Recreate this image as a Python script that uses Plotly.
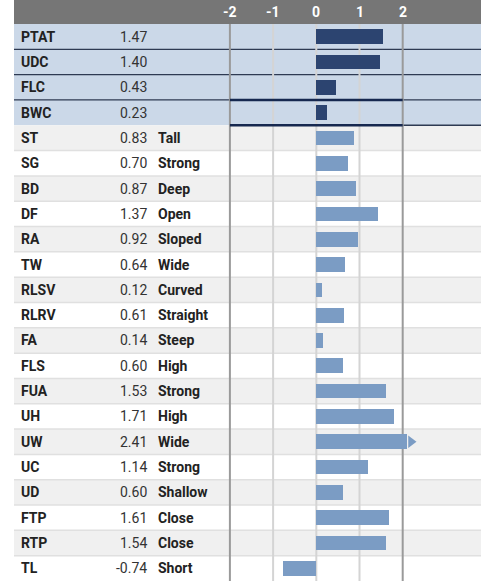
import plotly.graph_objects as go

# ---------------- data ----------------
NAMES = ["PTAT", "UDC", "FLC", "BWC", "ST", "SG", "BD", "DF", "RA", "TW", "RLSV",
         "RLRV", "FA", "FLS", "FUA", "UH", "UW", "UC", "UD", "FTP", "RTP", "TL"]
VALUES = [1.47, 1.40, 0.43, 0.23, 0.83, 0.70, 0.87, 1.37, 0.92, 0.64, 0.12,
          0.61, 0.14, 0.60, 1.53, 1.71, 2.41, 1.14, 0.60, 1.61, 1.54, -0.74]
DESCRIPTORS = ["", "", "", "", "Tall", "Strong", "Deep", "Open", "Sloped", "Wide", "Curved",
               "Straight", "Steep", "High", "Strong", "High", "Wide", "Strong", "Shallow",
               "Close", "Close", "Short"]
TICKS = [-2, -1, 0, 1, 2]
N_SUMMARY = 4          # first rows are summary (composite) traits
CLIP = 2.0             # bars longer than this are cut and get an arrow

# ---------------- layout constants ----------------
W, H = 481, 581
ZERO_PX = 316.3
BAR_UNIT_PX, GRID_UNIT_PX = 45.3, 43.2   # bar scale vs. grid/tick scale
HEADER_PX = 24
LEFT_PX = 14
N = len(NAMES)
ROW_PX = (H - HEADER_PX) / N
X_RANGE = [-ZERO_PX / BAR_UNIT_PX, (W - ZERO_PX) / BAR_UNIT_PX]
X2_RANGE = [-ZERO_PX / GRID_UNIT_PX, (W - ZERO_PX) / GRID_UNIT_PX]
Y_RANGE = [N - 0.5, -0.5 - HEADER_PX / ROW_PX]
LEFT = LEFT_PX / W

FONT = "Roboto, Arial, sans-serif"
BLUE_BG = "#cbd8e8"
GRAY_BG = "#f0f0f0"
DARK_BAR = "#2c4470"
LIGHT_BAR = "#7b9cc4"

fig = go.Figure()

bar_x = [min(v, CLIP) for v in VALUES]
colors = [DARK_BAR if i < N_SUMMARY else LIGHT_BAR for i in range(N)]
fig.add_trace(go.Bar(
    x=bar_x, y=NAMES, orientation="h", width=0.58,
    marker=dict(color=colors, line=dict(width=0)),
    hoverinfo="skip", showlegend=False,
))

# arrow for clipped bars
arr_y = [n for n, v in zip(NAMES, VALUES) if v > CLIP]
arr_c = [c for c, v in zip(colors, VALUES) if v > CLIP]
if arr_y:
    fig.add_trace(go.Scatter(
        x=[CLIP + 0.09] * len(arr_y), y=arr_y, mode="markers",
        marker=dict(symbol="triangle-right", size=11, color=arr_c, line=dict(width=0)),
        hoverinfo="skip", showlegend=False,
    ))

shapes = []
# header band
shapes.append(dict(type="rect", xref="paper", yref="paper", x0=LEFT, x1=1,
                   y0=1 - HEADER_PX / H, y1=1, fillcolor="#767676",
                   line=dict(width=0), layer="below"))
# row backgrounds
for i in range(N):
    if i < N_SUMMARY:
        col = BLUE_BG
    else:
        col = GRAY_BG if (i - N_SUMMARY) % 2 == 0 else "#ffffff"
    shapes.append(dict(type="rect", xref="paper", yref="y", x0=LEFT, x1=1,
                       y0=i - 0.5, y1=i + 0.5, fillcolor=col,
                       line=dict(width=0), layer="below"))
# row separators
for i in range(1, N):
    yb = i - 0.5
    if i < N_SUMMARY:
        shapes.append(dict(type="line", xref="paper", yref="y", x0=LEFT, x1=1,
                           y0=yb, y1=yb, line=dict(color="#2e3a52", width=1.3),
                           layer="below"))
    elif i == N_SUMMARY:
        shapes.append(dict(type="line", xref="x2", yref="y", x0=2, x1=X2_RANGE[1],
                           y0=yb, y1=yb, line=dict(color="#2e3a52", width=1.3),
                           layer="below"))
    else:
        shapes.append(dict(type="line", xref="paper", yref="y", x0=LEFT, x1=1,
                           y0=yb, y1=yb, line=dict(color="#e0e0e0", width=1.5),
                           layer="below"))
# vertical grid lines
for t in TICKS:
    shapes.append(dict(type="line", xref="x2", yref="y", x0=t, x1=t,
                       y0=-0.5, y1=N - 0.5,
                       line=dict(color="#9a9a9a" if abs(t) == 2 else "#d4d4d4", width=2),
                       layer="below"))
# thick navy lines framing last summary row
for yb in (N_SUMMARY - 1.5, N_SUMMARY - 0.5):
    shapes.append(dict(type="line", xref="x2", yref="y", x0=TICKS[0], x1=TICKS[-1],
                       y0=yb, y1=yb, line=dict(color="#16284f", width=2.5),
                       layer="below"))

annotations = []
for t in TICKS:
    annotations.append(dict(x=t, y=1 - (HEADER_PX / 2) / H, xref="x2", yref="paper",
                            text=str(t), showarrow=False, xanchor="center", yanchor="middle",
                            font=dict(family=FONT, size=14, color="white", weight="bold")))
for n, v, d in zip(NAMES, VALUES, DESCRIPTORS):
    annotations.append(dict(x=19 / W, y=n, xref="paper", yref="y", text=n,
                            showarrow=False, xanchor="left", yanchor="middle",
                            font=dict(family=FONT, size=14, color="#222222", weight="bold")))
    annotations.append(dict(x=148.5 / W, y=n, xref="paper", yref="y", text=f"{v:.2f}",
                            showarrow=False, xanchor="right", yanchor="middle",
                            font=dict(family=FONT, size=14, color="#333333")))
    if d:
        annotations.append(dict(x=156 / W, y=n, xref="paper", yref="y", text=d,
                                showarrow=False, xanchor="left", yanchor="middle",
                                font=dict(family=FONT, size=14, color="#222222", weight="bold")))

fig.update_layout(
    width=W, height=H,
    margin=dict(l=0, r=0, t=0, b=0),
    paper_bgcolor="white", plot_bgcolor="rgba(0,0,0,0)",
    xaxis=dict(range=X_RANGE, showgrid=False, zeroline=False, showticklabels=False,
               fixedrange=True),
    xaxis2=dict(range=X2_RANGE, overlaying="x", showgrid=False, zeroline=False,
                showticklabels=False, fixedrange=True),
    yaxis=dict(range=Y_RANGE, type="category", categoryorder="array", categoryarray=NAMES,
               showgrid=False, zeroline=False, showticklabels=False, fixedrange=True),
    shapes=shapes, annotations=annotations, bargap=0,
)

fig.write_html("out.html", config={"displayModeBar": False},
               post_script="document.body.style.margin='0';")
